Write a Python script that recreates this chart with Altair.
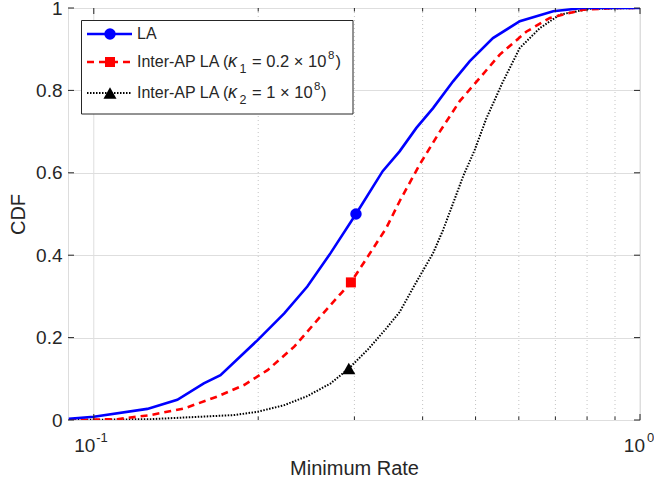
import altair as alt
import pandas as pd

# ---------------- data ----------------
la_x = [0.09, 0.1, 0.1253, 0.1422, 0.159, 0.1706, 0.1995, 0.2232, 0.246, 0.2713, 0.302,
        0.338, 0.363, 0.3896, 0.418, 0.4548, 0.488, 0.538, 0.6025, 0.6935, 0.786, 1.0]
la_y = [0.003, 0.008, 0.027, 0.049, 0.089, 0.109, 0.194, 0.259, 0.324, 0.405, 0.5,
        0.604, 0.652, 0.709, 0.757, 0.822, 0.871, 0.927, 0.968, 0.992, 1.0, 1.0]

k1_x = [0.09, 0.1104, 0.127, 0.1463, 0.1684, 0.1884, 0.208, 0.2328, 0.2568, 0.2833, 0.2956,
        0.3172, 0.3432, 0.363, 0.395, 0.43, 0.4677, 0.5088, 0.5537, 0.62, 0.684, 0.787, 0.906, 1.0]
k1_y = [0.0, 0.002, 0.012, 0.028, 0.057, 0.085, 0.121, 0.178, 0.243, 0.307, 0.334,
        0.396, 0.466, 0.531, 0.62, 0.70, 0.774, 0.83, 0.887, 0.943, 0.976, 0.996, 1.0, 1.0]

k2_x = [0.09, 0.127, 0.157, 0.1807, 0.1995, 0.2232, 0.246, 0.2715, 0.293, 0.3180, 0.343,
        0.363, 0.3896, 0.418, 0.4359, 0.4548, 0.4743, 0.498, 0.5236, 0.5615, 0.6025, 0.6555,
        0.7134, 0.81, 1.0]
k2_y = [0.0, 0.002, 0.008, 0.012, 0.02, 0.036, 0.058, 0.089, 0.125, 0.172, 0.222,
        0.262, 0.335, 0.405, 0.461, 0.526, 0.591, 0.655, 0.733, 0.822, 0.903, 0.951,
        0.984, 0.998, 1.0]

marker_x = [0.302, 0.2956, 0.293]
marker_y = [0.5, 0.334, 0.125]

legend_main = ["LA", "Inter-AP LA (", "Inter-AP LA ("]
legend_sub = ["", "1", "2"]
legend_rest = ["", "= 0.2 × 10", "= 1 × 10"]
legend_sup = ["", "8", "8"]
y_ticks = [0, 0.2, 0.4, 0.6, 0.8, 1.0]
x_major = [0.1, 1.0]
x_minor = [0.2, 0.3, 0.4, 0.5, 0.6, 0.7, 0.8, 0.9]

W, H = 572, 412
FONT = "Liberation Sans"
AX = "#262626"

xs = alt.Scale(type="log", domain=[0.0897, 1.0], nice=False)
ys = alt.Scale(domain=[0, 1], nice=False)

df_la = pd.DataFrame({"x": la_x, "y": la_y})
df_k1 = pd.DataFrame({"x": k1_x, "y": k1_y})
df_k2 = pd.DataFrame({"x": k2_x, "y": k2_y})
one = pd.DataFrame({"a": [0]})

base = alt.Chart(pd.DataFrame({"y": y_ticks})).mark_rule(opacity=0).encode(
    y=alt.Y("y:Q", scale=ys,
            axis=alt.Axis(values=y_ticks, format="~g", title="CDF", grid=True,
                          gridColor="#dedede", ticks=False, domain=False,
                          labelFont=FONT, labelFontSize=19, labelColor=AX, labelPadding=6,
                          titleFont=FONT, titleFontSize=20, titleColor=AX,
                          titleFontWeight="normal", titlePadding=7)),
)

xgrid = alt.Chart(pd.DataFrame({"x": x_major})).mark_rule(color="#dedede", strokeWidth=1).encode(
    x=alt.X("x:Q", scale=xs,
            axis=alt.Axis(values=x_major, labels=False, ticks=False, domain=False, grid=False,
                          title="Minimum Rate", titleFont=FONT, titleFontSize=20,
                          titleColor=AX, titleFontWeight="normal", titlePadding=38)),
)

xminor = alt.Chart(pd.DataFrame({"x": x_minor})).mark_rule(
    color="#c4c4c4", strokeWidth=1, strokeDash=[1, 3]).encode(x=alt.X("x:Q", scale=xs))


def line(df, color, width, dash=None):
    kw = dict(color=color, strokeWidth=width, clip=True)
    if dash:
        kw["strokeDash"] = dash
    return alt.Chart(df).mark_line(**kw).encode(
        x=alt.X("x:Q", scale=xs), y=alt.Y("y:Q", scale=ys))


l1 = line(df_la, "#0000ff", 2.6)
l2 = line(df_k1, "#ff0000", 2.6, [7, 5])
l3 = line(df_k2, "#000000", 2.0, [1.5, 1.5])

shapes = ["circle", "square", "triangle-up"]
colors = ["#0000ff", "#ff0000", "#000000"]
sizes = [130, 100, 170]
marks = []
for i in range(3):
    d = pd.DataFrame({"x": [marker_x[i]], "y": [marker_y[i]]})
    marks.append(alt.Chart(d).mark_point(shape=shapes[i], filled=True, color=colors[i],
                                         size=sizes[i], opacity=1).encode(
        x=alt.X("x:Q", scale=xs), y=alt.Y("y:Q", scale=ys)))

# inward ticks
ticks = []
ydf = pd.DataFrame({"y": y_ticks})
ticks.append(alt.Chart(ydf).mark_rule(color=AX).encode(
    y=alt.Y("y:Q", scale=ys), x=alt.value(0), x2=alt.value(6)))
ticks.append(alt.Chart(ydf).mark_rule(color=AX).encode(
    y=alt.Y("y:Q", scale=ys), x=alt.value(W - 6), x2=alt.value(W)))
for vals, ln in [(x_major, 6), (x_minor, 3.5)]:
    xdf = pd.DataFrame({"x": vals})
    ticks.append(alt.Chart(xdf).mark_rule(color=AX).encode(
        x=alt.X("x:Q", scale=xs), y=alt.value(H - ln), y2=alt.value(H)))
    ticks.append(alt.Chart(xdf).mark_rule(color=AX).encode(
        x=alt.X("x:Q", scale=xs), y=alt.value(0), y2=alt.value(ln)))

# x tick labels with exponents
xl = []
for val, exp, dx_base, dx_exp in [(0.1, "-1", 1.5, 2.5), (1.0, "0", 5, 7)]:
    d = pd.DataFrame({"x": [val]})
    xl.append(alt.Chart(d).mark_text(text="10", align="right", baseline="alphabetic",
                                     dx=dx_base, font=FONT, fontSize=19, color=AX).encode(
        x=alt.X("x:Q", scale=xs), y=alt.value(444)))
    xl.append(alt.Chart(d).mark_text(text=exp, align="left", baseline="alphabetic",
                                     dx=dx_exp, font=FONT, fontSize=13, color=AX).encode(
        x=alt.X("x:Q", scale=xs), y=alt.value(434)))

# legend
leg = []
leg.append(alt.Chart(one).mark_rect(fill="white", stroke=AX, strokeWidth=1).encode(
    x=alt.value(13.5), x2=alt.value(285), y=alt.value(12.5), y2=alt.value(106)))
rows = [26, 54, 85]
lstyles = [dict(color="#0000ff", strokeWidth=2.6),
           dict(color="#ff0000", strokeWidth=2.6, strokeDash=[7, 5]),
           dict(color="#000000", strokeWidth=2.0, strokeDash=[1.5, 1.5])]
kappa_x, sub_x, rest_x = 160, 171.5, 184
sup_x = [0, 260, 246]
close_x = [0, 267.5, 253]


def txt(s, x, y, size=16.5, dy=0, style="normal"):
    return alt.Chart(one).mark_text(text=s, align="left", baseline="middle", dy=dy,
                                    font=FONT, fontSize=size, fontStyle=style,
                                    color=AX).encode(x=alt.value(x), y=alt.value(y))


for i in range(3):
    r = rows[i]
    leg.append(alt.Chart(one).mark_rule(**lstyles[i]).encode(
        x=alt.value(19), x2=alt.value(64), y=alt.value(r)))
    leg.append(alt.Chart(one).mark_point(shape=shapes[i], filled=True, color=colors[i],
                                         size=sizes[i], opacity=1).encode(
        x=alt.value(42), y=alt.value(r)))
    leg.append(txt(legend_main[i], 69, r, 16))
    if i > 0:
        leg.append(txt("κ", kappa_x, r, 18, 0, "italic"))
        leg.append(txt(legend_sub[i], sub_x, r, 12.5, 7))
        leg.append(txt(legend_rest[i], rest_x, r))
        leg.append(txt(legend_sup[i], sup_x[i], r, 11.5, -6))
        leg.append(txt(")", close_x[i], r))

chart = alt.layer(base, xgrid, xminor, l3, l2, l1, *marks, *ticks, *xl, *leg).properties(
    width=W, height=H,
    padding={"left": 68, "top": 8, "right": 14, "bottom": 65},
    autosize=alt.AutoSizeParams(type="none"),
).configure_view(stroke=AX, strokeWidth=1).configure(background="white")

chart.save("out.html", embed_options={"renderer": "svg", "actions": False})
